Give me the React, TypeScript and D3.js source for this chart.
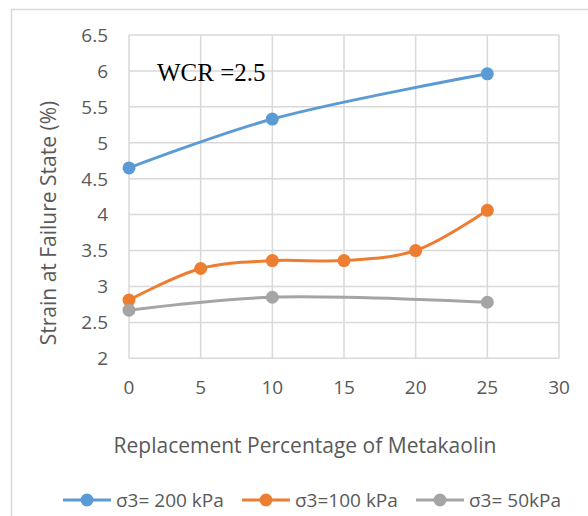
import React from "react";
import * as d3 from "d3";

const xTicks = [0, 5, 10, 15, 20, 25, 30];
const yTicks = [2, 2.5, 3, 3.5, 4, 4.5, 5, 5.5, 6, 6.5];

const s200X = [0, 10, 25];
const s200Y = [4.65, 5.33, 5.96];
const s100X = [0, 5, 10, 15, 20, 25];
const s100Y = [2.81, 3.25, 3.36, 3.36, 3.5, 4.06];
const s50X = [0, 10, 25];
const s50Y = [2.67, 2.85, 2.78];

const seriesNames = ["σ3= 200 kPa", "σ3=100 kPa", "σ3= 50kPa"];
const colors = ["#5B9BD5", "#ED7D31", "#A5A5A5"];

export default function App() {
  const W = 588, H = 516;
  const x = d3.scaleLinear().domain([0, 30]).range([129, 559]);
  const y = d3.scaleLinear().domain([2, 6.5]).range([358.3, 35]);
  const font = "'Open Sans', 'Liberation Sans', sans-serif";
  const txt = "#595959";
  const line = d3
    .line<[number, number]>()
    .x((d) => x(d[0]))
    .y((d) => y(d[1]))
    .curve(d3.curveCatmullRom.alpha(0.5));
  const series = [
    { xs: s200X, ys: s200Y },
    { xs: s100X, ys: s100Y },
    { xs: s50X, ys: s50Y },
  ];
  const legendX = [63, 242, 416];
  const legendY = 500;
  return (
    <svg width={W} height={H} style={{ position: "absolute", left: 0, top: 0 }}>
      <rect x={0} y={0} width={W} height={H} fill="#fff" />
      <path d="M11.5,516 V9.5 H588" fill="none" stroke="#D9D9D9" strokeWidth={1.5} />
      {yTicks.map((t) => (
        <g key={"y" + t}>
          <line x1={x(0)} x2={x(30)} y1={y(t)} y2={y(t)} stroke="#D9D9D9" strokeWidth={1.5} />
          <text x={108} y={y(t)} dy="0.36em" textAnchor="end" fontFamily={font} fontSize={19} fill={txt}>
            {t}
          </text>
        </g>
      ))}
      {xTicks.map((t) => (
        <g key={"x" + t}>
          <line x1={x(t)} x2={x(t)} y1={y(2)} y2={y(6.5)} stroke="#D9D9D9" strokeWidth={1.5} />
          <text x={x(t)} y={394} textAnchor="middle" fontFamily={font} fontSize={19} fill={txt}>
            {t}
          </text>
        </g>
      ))}
      {series.map((s, i) => {
        const pts = s.xs.map((v, j) => [v, s.ys[j]] as [number, number]);
        return (
          <g key={"s" + i}>
            <path d={line(pts) || ""} fill="none" stroke={colors[i]} strokeWidth={3} />
            {pts.map((p, j) => (
              <circle key={j} cx={x(p[0])} cy={y(p[1])} r={6.5} fill={colors[i]} />
            ))}
          </g>
        );
      })}
      <text x={157} y={80.5} fontFamily="'Liberation Serif', 'Times New Roman', serif" fontSize={25} fill="#000">
        WCR =2.5
      </text>
      <text
        transform={`translate(56,223) rotate(-90)`}
        textAnchor="middle"
        fontFamily={font}
        fontSize={21}
        fill={txt}
      >
        Strain at Failure State (%)
      </text>
      <text x={305} y={453} textAnchor="middle" fontFamily={font} fontSize={21} fill={txt}>
        Replacement Percentage of Metakaolin
      </text>
      {seriesNames.map((n, i) => (
        <g key={"l" + i}>
          <line x1={legendX[i]} x2={legendX[i] + 48} y1={legendY} y2={legendY} stroke={colors[i]} strokeWidth={3} />
          <circle cx={legendX[i] + 24} cy={legendY} r={6.5} fill={colors[i]} />
          <text x={legendX[i] + 53} y={legendY} dy="0.36em" fontFamily={font} fontSize={19} fill={txt}>
            {n}
          </text>
        </g>
      ))}
    </svg>
  );
}
